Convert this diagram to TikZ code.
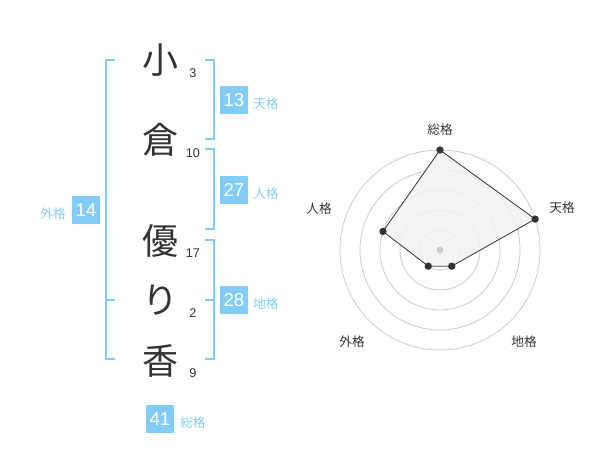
\documentclass[tikz,border=0pt]{standalone}
\usepackage{fontspec}
\usetikzlibrary{calc}
\setmainfont{Liberation Sans}
\newfontfamily\jp{Noto Sans CJK JP}
\definecolor{lb}{HTML}{82CDF8}
\definecolor{txt}{HTML}{333333}
\definecolor{ring}{HTML}{CCCCCC}
\definecolor{area}{HTML}{F2F2F2}
\begin{document}
\begin{tikzpicture}[x=0.75pt,y=-0.75pt,
  bigch/.style={font=\jp\fontsize{27pt}{27pt}\selectfont, text=txt, inner sep=0pt},
  num/.style={font=\fontsize{9.5pt}{10pt}\selectfont, text=txt, inner sep=0pt},
  numbox/.style={fill=lb, text=white, minimum size=21pt, inner sep=0pt, font=\fontsize{14pt}{14pt}\selectfont},
  lbl/.style={font=\jp\fontsize{9.5pt}{10pt}\selectfont, text=lb, inner sep=0pt},
  bracket/.style={draw=lb, line width=1.5pt},
  rlbl/.style={font=\jp\fontsize{9.5pt}{10pt}\selectfont, text=txt, inner sep=0pt},
  ringline/.style={draw=ring, line width=0.6pt},
  dot/.style={circle, fill=txt, inner sep=0pt, minimum size=5.5pt}]
\useasboundingbox (0,0) rectangle (600,470);

% characters
\node[bigch] (c1) at (160,60) {小};
\node[bigch] (c2) at (160,140) {倉};
\node[bigch] (c3) at (160,241) {優};
\node[bigch] (c4) at (160,300) {り};
\node[bigch] (c5) at (160,361) {香};

% stroke counts
\node[num] (n1) at (193,73) {3};
\node[num] (n2) at (193,153) {10};
\node[num] (n3) at (193,253) {17};
\node[num] (n4) at (193,313) {2};
\node[num] (n5) at (193,373) {9};

% brackets
\coordinate (L1) at (115,60); \coordinate (L2) at (106,60);
\coordinate (L3) at (106,359); \coordinate (L4) at (115,359);
\coordinate (Lm1) at (106,300); \coordinate (Lm2) at (115,300);
\draw[bracket] (L1) -- (L2) -- (L3) -- (L4);
\draw[bracket] (Lm1) -- (Lm2);

\coordinate (T1) at (205,60); \coordinate (T2) at (214,60);
\coordinate (T3) at (214,139); \coordinate (T4) at (205,139);
\draw[bracket] (T1) -- (T2) -- (T3) -- (T4);

\coordinate (J1) at (205,149); \coordinate (J2) at (214,149);
\coordinate (J3) at (214,229); \coordinate (J4) at (205,229);
\draw[bracket] (J1) -- (J2) -- (J3) -- (J4);

\coordinate (D1) at (205,240); \coordinate (D2) at (214,240);
\coordinate (D3) at (214,359); \coordinate (D4) at (205,359);
\coordinate (Dm1) at (214,300); \coordinate (Dm2) at (205,300);
\draw[bracket] (D1) -- (D2) -- (D3) -- (D4);
\draw[bracket] (Dm1) -- (Dm2);

% boxes and labels
\node[numbox] (b13) at (234,100) {13};
\node[lbl, anchor=west] (l13) at (253,104) {天格};
\node[numbox] (b27) at (234,190) {27};
\node[lbl, anchor=west] (l27) at (253,194) {人格};
\node[numbox] (b28) at (234,300) {28};
\node[lbl, anchor=west] (l28) at (253,304) {地格};
\node[numbox] (b14) at (86,210) {14};
\node[lbl, anchor=east] (l14) at (66,214) {外格};
\node[numbox] (b41) at (160,419) {41};
\node[lbl, anchor=west] (l41) at (180,423) {総格};

% radar
\coordinate (O) at (440,250);
\foreach \r in {20,40,60,80,100} \draw[ringline] (O) circle[radius=\r];
\coordinate (pS) at ($(O)+(-90:100)$);
\coordinate (pT) at ($(O)+(-18:100)$);
\coordinate (pD) at ($(O)+(54:20)$);
\coordinate (pG) at ($(O)+(126:20)$);
\coordinate (pJ) at ($(O)+(198:60)$);
\draw[fill=area, fill opacity=0.85, draw=txt, line width=0.6pt] (pS) -- (pT) -- (pD) -- (pG) -- (pJ) -- cycle;
\fill[ring] (O) circle[radius=3.5];
\foreach \p in {pS,pT,pD,pG,pJ} \node[dot] at (\p) {};
\node[rlbl] (rS) at (440,130) {総格};
\node[rlbl] (rT) at (562,208) {天格};
\node[rlbl] (rJ) at (319,209) {人格};
\node[rlbl] (rG) at (352,342) {外格};
\node[rlbl] (rD) at (524,342) {地格};
\end{tikzpicture}
\end{document}
